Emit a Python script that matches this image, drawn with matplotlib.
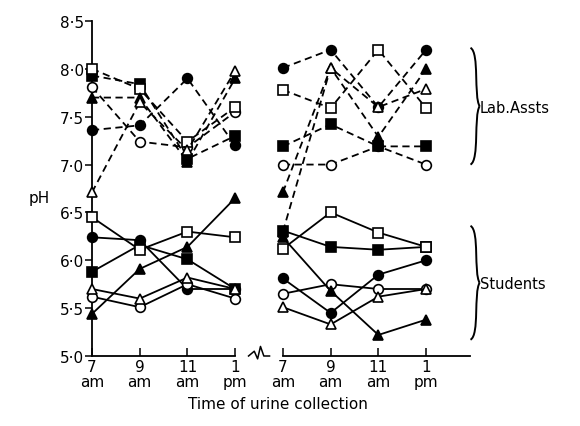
import numpy as np
import matplotlib
matplotlib.use('Agg')
import matplotlib.pyplot as plt
from matplotlib.path import Path
from matplotlib.patches import PathPatch

# время сбора мочи, две серии по 4 точки
time_labels = ['7\nam', '9\nam', '11\nam', '1\npm', '7\nam', '9\nam', '11\nam', '1\npm']
x_left = [0, 1, 2, 3]
x_right = [4, 5, 6, 7]

# Lab.Assts (пунктир) - левая часть
lab_left_fcircle = [7.36, 7.41, 7.90, 7.20]
lab_left_ocircle = [7.81, 7.24, 7.18, 7.55]
lab_left_fsquare = [7.93, 7.84, 7.06, 7.30]
lab_left_osquare = [8.00, 7.79, 7.24, 7.60]
lab_left_ftri = [7.70, 7.70, 7.03, 7.90]
lab_left_otri = [6.71, 7.65, 7.15, 7.98]

# Lab.Assts - правая часть
lab_right_fcircle = [8.01, 8.20, 7.60, 8.20]
lab_right_ocircle = [7.00, 7.00, 7.19, 7.00]
lab_right_fsquare = [7.19, 7.42, 7.19, 7.19]
lab_right_osquare = [7.78, 7.59, 8.20, 7.59]
lab_right_ftri = [6.71, 8.01, 7.29, 8.00]
lab_right_otri = [6.30, 8.01, 7.60, 7.79]

# Students (сплошные) - левая часть
st_left_fcircle = [6.24, 6.21, 5.70, 5.70]
st_left_ocircle = [5.62, 5.51, 5.75, 5.60]
st_left_fsquare = [5.88, 6.16, 6.01, 5.70]
st_left_osquare = [6.45, 6.11, 6.30, 6.24]
st_left_ftri = [5.44, 5.91, 6.14, 6.65]
st_left_otri = [5.70, 5.60, 5.82, 5.70]

# Students - правая часть
st_right_fcircle = [5.81, 5.45, 5.85, 6.00]
st_right_ocircle = [5.65, 5.75, 5.70, 5.70]
st_right_fsquare = [6.31, 6.14, 6.11, 6.14]
st_right_osquare = [6.12, 6.50, 6.29, 6.14]
st_right_ftri = [6.24, 5.68, 5.22, 5.38]
st_right_otri = [5.51, 5.33, 5.62, 5.70]

y_ticks = [5.0, 5.5, 6.0, 6.5, 7.0, 7.5, 8.0, 8.5]
y_labels = ['5·0', '5·5', '6·0', '6·5', '7·0', '7·5', '8·0', '8·5']

styles = {
    'fcircle': ('o', 'black'),
    'ocircle': ('o', 'white'),
    'fsquare': ('s', 'black'),
    'osquare': ('s', 'white'),
    'ftri': ('^', 'black'),
    'otri': ('^', 'white'),
}

lab_left = {'fcircle': lab_left_fcircle, 'ocircle': lab_left_ocircle,
            'fsquare': lab_left_fsquare, 'osquare': lab_left_osquare,
            'ftri': lab_left_ftri, 'otri': lab_left_otri}
lab_right = {'fcircle': lab_right_fcircle, 'ocircle': lab_right_ocircle,
             'fsquare': lab_right_fsquare, 'osquare': lab_right_osquare,
             'ftri': lab_right_ftri, 'otri': lab_right_otri}
st_left = {'fcircle': st_left_fcircle, 'ocircle': st_left_ocircle,
           'fsquare': st_left_fsquare, 'osquare': st_left_osquare,
           'ftri': st_left_ftri, 'otri': st_left_otri}
st_right = {'fcircle': st_right_fcircle, 'ocircle': st_right_ocircle,
            'fsquare': st_right_fsquare, 'osquare': st_right_osquare,
            'ftri': st_right_ftri, 'otri': st_right_otri}

fig = plt.figure(figsize=(5.8, 4.27), dpi=100)
ax = fig.add_axes([92 / 580, 1 - 357 / 427, (470 - 92) / 580, (357 - 22) / 427])
ax.set_xlim(0, 7.92)
ax.set_ylim(5.0, 8.5)


def draw_group(data, xs, ls):
    for key, vals in data.items():
        marker, face = styles[key]
        ax.plot(xs, vals, linestyle=ls, color='black', lw=1.3,
                marker=marker, markersize=7, markerfacecolor=face,
                markeredgecolor='black', markeredgewidth=1.2,
                clip_on=False, zorder=3, dashes=(4, 2.5) if ls == '--' else (None, None))


draw_group(lab_left, x_left, '--')
draw_group(lab_right, x_right, '--')
draw_group(st_left, x_left, '-')
draw_group(st_right, x_right, '-')

# оси
for s in ['top', 'right', 'bottom']:
    ax.spines[s].set_visible(False)
ax.spines['left'].set_linewidth(1.3)
ax.plot([0, 3], [5.0, 5.0], color='black', lw=1.3, clip_on=False)
ax.plot([4, 7.92], [5.0, 5.0], color='black', lw=1.3, clip_on=False)

# разрыв оси
bx = 3.5
ax.plot([bx - 0.22, bx - 0.1, bx - 0.03, bx + 0.03, bx + 0.1, bx + 0.22],
        [5.0, 5.05, 4.97, 5.1, 5.0, 5.0], color='black', lw=1.1, clip_on=False)

ax.set_xticks(x_left + x_right)
ax.set_xticklabels(time_labels, fontsize=11, linespacing=1.05)
ax.tick_params(axis='x', direction='in', length=6, width=1.1, pad=2)
ax.set_yticks(y_ticks)
ax.set_yticklabels(y_labels, fontsize=11)
ax.tick_params(axis='y', direction='out', length=5, width=1.1, pad=1)

ax.text(3.9, 4.5, 'Time of urine collection', fontsize=11, ha='center', va='center')
ax.text(-1.1, 6.66, 'pH', fontsize=11, ha='center', va='center')


def brace(x, y0, y1, w=0.16):
    ym = (y0 + y1) / 2
    p1 = Path([(x, y1), (x + w * 1.2, y1 - 0.05), (x + w * 0.4, ym + 0.1), (x + w * 1.2, ym)],
              [Path.MOVETO, Path.CURVE4, Path.CURVE4, Path.CURVE4])
    p2 = Path([(x + w * 1.2, ym), (x + w * 0.4, ym - 0.1), (x + w * 1.2, y0 + 0.05), (x, y0)],
              [Path.MOVETO, Path.CURVE4, Path.CURVE4, Path.CURVE4])
    for p in (p1, p2):
        ax.add_patch(PathPatch(p, fill=False, lw=1.4, color='black', clip_on=False))


brace(7.93, 7.0, 8.22)
brace(7.93, 5.17, 6.36)
ax.text(8.13, 7.6, 'Lab.Assts', fontsize=10.5, ha='left', va='center')
ax.text(8.13, 5.76, 'Students', fontsize=10.5, ha='left', va='center')

plt.savefig('out.png', dpi=100)
